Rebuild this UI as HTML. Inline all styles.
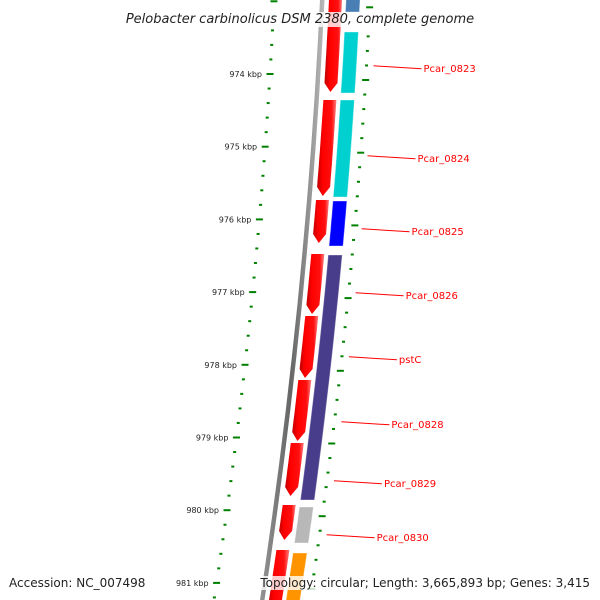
<!DOCTYPE html>
<html><head><meta charset="utf-8"><style>
html,body{margin:0;padding:0;background:#fff;}
svg{display:block;font-family:"DejaVu Sans","Liberation Sans",sans-serif;}
</style></head><body>
<svg id="chart" width="600" height="600" viewBox="0 0 600 600">
<defs>
<linearGradient id="gRed" x1="0" x2="1" y1="0" y2="0"><stop offset="0" stop-color="#c00000"/><stop offset="0.3" stop-color="#ff0000"/><stop offset="0.75" stop-color="#ff1010"/><stop offset="1" stop-color="#ff8080"/></linearGradient>
<linearGradient id="gGray" x1="0" x2="1"><stop offset="0" stop-color="#999"/><stop offset="0.5" stop-color="#666"/><stop offset="1" stop-color="#bbb"/></linearGradient>
</defs>
<g id="layer"></g>
</svg>
<script>
const majorTicks = [974, 975, 976, 977, 978, 979, 980, 981];
const tickLabels = ["974 kbp","975 kbp","976 kbp","977 kbp","978 kbp","979 kbp","980 kbp","981 kbp"];
const fwdStarts = [972.845, 974.358, 975.733, 976.476, 977.329, 978.209, 979.076, 979.929, 980.548];
const fwdEnds   = [974.248, 975.678, 976.325, 977.301, 978.182, 979.048, 979.805, 980.410, 981.51];
const cogStarts = [972.845, 973.422, 974.358, 975.747, 976.490, 979.956, 980.589];
const cogEnds   = [973.147, 974.261, 975.692, 976.366, 979.860, 980.451, 981.51];
const cogColors = ["#4a7fb5", "#00d0d0", "#00d0d0", "#0000ff", "#483d8b", "#b8b8b8", "#ff9400"];
const geneNames = ["Pcar_0823","Pcar_0824","Pcar_0825","Pcar_0826","pstC","Pcar_0828","Pcar_0829","Pcar_0830"];
const geneLabelPos = [973.887, 975.125, 976.129, 977.009, 977.890, 978.784, 979.595, 980.338];

const NS="http://www.w3.org/2000/svg";
const layer=document.getElementById('layer');
function Y(kbp){return 74+(kbp-974)*72.7;}
function X(y){return 322-0.0475*y-8.75e-5*y*y;}
function mk(tag,attrs,parent){const e=document.createElementNS(NS,tag);for(const k in attrs)e.setAttribute(k,attrs[k]);(parent||layer).appendChild(e);return e;}
function band(y1,y2,o1,o2,arrow){
  const pts=[];const n=12;const head=arrow?9:0;
  for(let i=0;i<=n;i++){const y=y1+(y2-head-y1)*i/n;pts.push([X(y)+o1,y]);}
  if(arrow){pts.push([X(y2)+(o1+o2)/2,y2]);}
  for(let i=n;i>=0;i--){const y=y1+(y2-head-y1)*i/n;pts.push([X(y)+o2,y]);}
  return pts.map(p=>p[0].toFixed(1)+','+p[1].toFixed(1)).join(' ');
}
const bb=mk('polygon',{points:band(-10,620,-2,2.5,false),fill:'url(#gGray)'});


for(let i=0;i<fwdStarts.length;i++){
  const p=mk('polygon',{points:band(Y(fwdStarts[i]),Y(fwdEnds[i]),7,20,true),fill:'url(#gRed)'});
  
  
}
for(let i=0;i<cogStarts.length;i++){
  const p=mk('polygon',{points:band(Y(cogStarts[i]),Y(cogEnds[i]),24,38,false),fill:cogColors[i],stroke:'rgba(255,255,255,0.35)','stroke-width':1});
  
  
}
for(let k=972.8;k<=981.6;k+=0.2){
  const kk=Math.round(k*5)/5;const major=Math.abs(kk-Math.round(kk))<0.01;
  const y=Y(kk);const xl=X(y)-48;const len=major?7:3;
  const t=mk('line',{x1:xl-len/2,x2:xl+len/2,y1:y,y2:y,stroke:'#008000','stroke-width':2});
  
  
  const yr=y+6;const xr=X(yr)+48;
  const t2=mk('line',{x1:xr-len/2,x2:xr+len/2,y1:yr,y2:yr,stroke:'#008000','stroke-width':2});
  
  
}
for(let i=0;i<majorTicks.length;i++){
  const y=Y(majorTicks[i]);
  const t=mk('text',{x:X(y)-56,y:y+3,'font-size':8,'text-anchor':'end',fill:'#222'});
  t.textContent=tickLabels[i];
  
  
}
for(let i=0;i<geneNames.length;i++){
  const y=Y(geneLabelPos[i]);
  const x0=X(y)+55;
  const l=mk('line',{x1:x0,y1:y,x2:x0+48,y2:y+3,stroke:'#ff0000','stroke-width':1});
  
  
  const t=mk('text',{x:x0+50,y:y+6,'font-size':10,fill:'#ff0000'});
  t.textContent=geneNames[i];
  
  
}
function boxedText(txt,x,y,anchor,size,italic,name){
  const t=mk('text',{x:x,y:y,'font-size':size,'text-anchor':anchor,fill:'#222','font-style':italic?'italic':'normal'});
  t.textContent=txt;
  const b=t.getBBox();
  const r=mk('rect',{x:b.x-2,y:b.y,width:b.width+4,height:b.height,fill:'rgba(255,255,255,0.8)'});
  layer.insertBefore(r,t);
  
  
  
  
}
boxedText('Pelobacter carbinolicus DSM 2380, complete genome',300,23,'middle',13,true,'chart-title');
boxedText('Accession: NC_007498',9,587,'start',12,false,'accession-text');
boxedText('Topology: circular; Length: 3,665,893 bp; Genes: 3,415',590,587,'end',12,false,'topology-text');
</script>
</body></html>
